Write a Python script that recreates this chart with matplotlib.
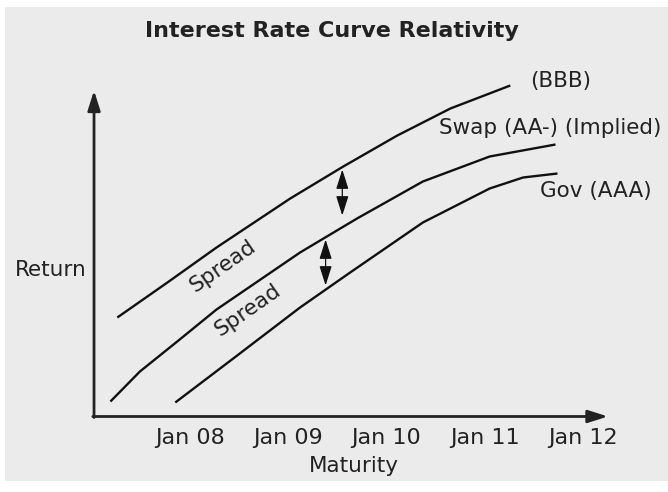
import matplotlib
matplotlib.use('Agg')
import matplotlib.pyplot as plt
from matplotlib.patches import Rectangle

# Maturity (years) and return (arbitrary units)
bbb_x = [2007.26, 2007.77, 2008.27, 2009.02, 2009.56, 2010.11, 2010.65, 2011.26]
bbb_y = [1.98, 2.68, 3.38, 4.36, 5.00, 5.62, 6.16, 6.62]

swap_x = [2007.19, 2007.49, 2007.87, 2008.27, 2009.12, 2009.70, 2010.37, 2011.05, 2011.72]
swap_y = [0.30, 0.90, 1.50, 2.14, 3.28, 3.96, 4.70, 5.20, 5.44]

gov_x = [2007.85, 2008.44, 2009.12, 2009.63, 2010.37, 2011.05, 2011.39, 2011.74]
gov_y = [0.28, 1.16, 2.18, 2.88, 3.88, 4.56, 4.78, 4.86]

tick_years = [2008, 2009, 2010, 2011, 2012]
tick_labels = ['Jan 08', 'Jan 09', 'Jan 10', 'Jan 11', 'Jan 12']

# spread arrows: (x, bottom, top)
spread_arrows = [(2009.55, 4.02, 4.94), (2009.38, 2.62, 3.54)]

TXT = '#222222'
BG = '#ebebeb'
FS = 15.5

fig = plt.figure(figsize=(6.68, 4.92), dpi=100)
fig.patch.set_facecolor('white')
fig.add_artist(Rectangle((5 / 668, 1 - 481 / 492), 663 / 668, 474 / 492,
                         transform=fig.transFigure, facecolor=BG,
                         edgecolor='none', zorder=0))

ax = fig.add_axes([0, 0, 1, 1])
ax.set_xlim(2006.066, 2012.865)
ax.set_ylim(-1.51, 8.33)
ax.axis('off')
ax.patch.set_alpha(0)

# axes with arrow heads
x0, y0 = 2007.023, 0.0
ax.annotate('', xy=(2012.254, y0), xytext=(x0 - 0.012, y0),
            arrowprops=dict(arrowstyle='-|>,head_length=1.2,head_width=0.38',
                            color=TXT, lw=2.0, shrinkA=0, shrinkB=0))
ax.annotate('', xy=(x0, 6.52), xytext=(x0, y0 - 0.02),
            arrowprops=dict(arrowstyle='-|>,head_length=1.2,head_width=0.38',
                            color=TXT, lw=2.0, shrinkA=0, shrinkB=0))

for xs, ys in [(bbb_x, bbb_y), (swap_x, swap_y), (gov_x, gov_y)]:
    ax.plot(xs, ys, color='#111111', lw=1.7, solid_capstyle='butt',
            solid_joinstyle='round')

for x, lo, hi in spread_arrows:
    ax.annotate('', xy=(x, hi), xytext=(x, lo),
                arrowprops=dict(arrowstyle='<|-|>,head_length=1.2,head_width=0.38',
                                color='#111111', lw=0.9, shrinkA=0, shrinkB=0))

for yr, lab in zip(tick_years, tick_labels):
    ax.text(yr, -0.43, lab, ha='center', va='center', fontsize=16, color=TXT)

ax.text(2009.67, -1.0, 'Maturity', ha='center', va='center', fontsize=FS, color=TXT)
ax.text(2006.22, 2.94, 'Return', ha='left', va='center', fontsize=FS, color=TXT)

ax.text(2011.46, 6.70, '(BBB)', ha='left', va='center', fontsize=FS, color=TXT)
ax.text(2010.53, 5.76, 'Swap (AA-) (Implied)', ha='left', va='center', fontsize=FS, color=TXT)
ax.text(2011.56, 4.52, 'Gov (AAA)', ha='left', va='center', fontsize=FS, color=TXT)

ax.text(2008.33, 3.00, 'Spread', ha='center', va='center', rotation=35,
        fontsize=FS, color=TXT)
ax.text(2008.59, 2.12, 'Spread', ha='center', va='center', rotation=35,
        fontsize=FS, color=TXT)

fig.text(332 / 668, 1 - 31 / 492, 'Interest Rate Curve Relativity',
         ha='center', va='center', fontsize=16, fontweight='bold', color=TXT)

fig.savefig('out.png', dpi=100, facecolor='white')
